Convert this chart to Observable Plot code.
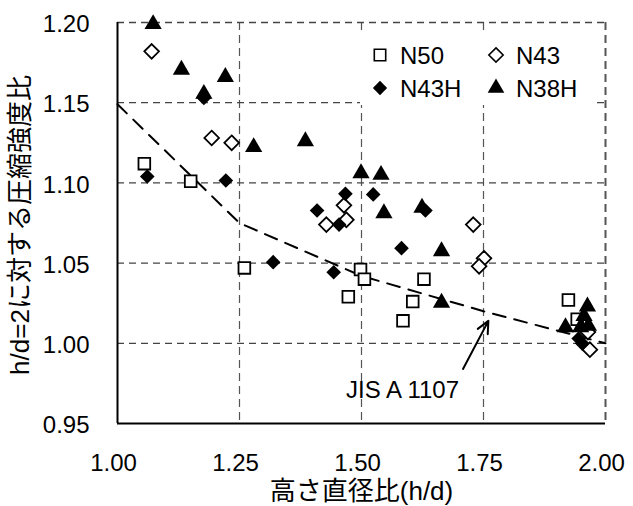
<!DOCTYPE html>
<html><head><meta charset="utf-8">
<script src="https://cdn.jsdelivr.net/npm/d3@7"></script>
<script src="https://cdn.jsdelivr.net/npm/@observablehq/plot@0.6"></script>
<style>
body{margin:0;background:#fff;}
#wrap{position:relative;width:633px;height:506px;}
#legend{position:absolute;left:360px;top:35px;}
</style></head><body><div id="wrap"></div>
<script>
const xTicks = [1.00, 1.25, 1.50, 1.75, 2.00];
const yTicks = [0.95, 1.00, 1.05, 1.10, 1.15, 1.20];

const n50X = [1.055, 1.150, 1.260, 1.498, 1.506, 1.473, 1.628, 1.605, 1.585, 1.924, 1.942];
const n50Y = [1.112, 1.101, 1.047, 1.046, 1.040, 1.029, 1.040, 1.026, 1.014, 1.027, 1.015];

const n43X = [1.070, 1.193, 1.234, 1.428, 1.464, 1.469, 1.729, 1.751, 1.741, 1.964, 1.968];
const n43Y = [1.182, 1.128, 1.125, 1.074, 1.086, 1.077, 1.074, 1.053, 1.048, 1.007, 0.996];

const n43hX = [1.061, 1.222, 1.177, 1.319, 1.443, 1.409, 1.467, 1.454, 1.524, 1.631, 1.582, 1.945, 1.952];
const n43hY = [1.104, 1.1015, 1.153, 1.0506, 1.0443, 1.0828, 1.0932, 1.074, 1.0928, 1.0828, 1.0593, 1.003, 1.000];

const n38hX = [1.073, 1.131, 1.221, 1.177, 1.279, 1.385, 1.499, 1.540, 1.546, 1.624, 1.664, 1.664, 1.918, 1.949, 1.956, 1.963, 1.965];
const n38hY = [1.199, 1.1705, 1.166, 1.1555, 1.1223, 1.126, 1.106, 1.105, 1.0811, 1.0845, 1.0574, 1.0253, 1.010, 1.010, 1.017, 1.023, 1.011];

const jisX = [1.00, 1.25, 1.50, 1.75, 2.00];
const jisY = [1.149, 1.075, 1.042, 1.020, 1.000];

const arrowFrom = [1.708, 0.984];
const arrowTo = [1.760, 1.014];
const jisLabel = "JIS A 1107";
const jisLabelPos = [1.584, 0.9706];

const seriesNames = ["N50", "N43", "N43H", "N38H"];
const seriesSymbols = ["square", "diamond2", "diamond2", "triangle"];
const seriesFills = ["white", "white", "black", "black"];
const seriesX = [n50X, n43X, n43hX, n38hX];
const seriesY = [n50Y, n43Y, n43hY, n38hY];

const xLabel = "高さ直径比(h/d)";
const yLabel = "h/d=2に対する圧縮強度比";

const points = seriesNames.flatMap((name, i) =>
  seriesX[i].map((x, j) => ({series: name, x, y: seriesY[i][j]})));
const jis = jisX.map((x, i) => ({x, y: jisY[i]}));

const font = "'Liberation Sans', Arial, 'Noto Sans CJK JP', sans-serif";

const dotMarks = seriesNames.map((name, i) =>
  Plot.dot(points.filter(d => d.series === name), {
    x: "x", y: "y",
    symbol: () => seriesSymbols[i],
    r: i === 3 ? 6.4 : 6.6,
    fill: seriesFills[i],
    stroke: "black",
    strokeWidth: seriesFills[i] === "white" ? 1.8 : 0
  }));

const chart = Plot.plot({
  width: 633,
  height: 506,
  marginLeft: 117,
  marginRight: 28,
  marginTop: 22,
  marginBottom: 83,
  style: {fontFamily: font, fontSize: "24px", color: "black", background: "white"},
  x: {domain: [1, 2], ticks: xTicks, label: null},
  y: {domain: [0.95, 1.2], ticks: yTicks, label: null},
  symbol: {type: "identity"},
  marks: [
    Plot.gridX(xTicks.slice(1), {stroke: "#555", strokeOpacity: 1, strokeDasharray: "8,5", strokeWidth: d => d === 2 ? 2 : 1.2}),
    Plot.gridY(yTicks.slice(1), {stroke: "#444", strokeOpacity: 1, strokeDasharray: "7,5", strokeWidth: d => d === 1.2 ? 1.6 : 1.2}),
    Plot.ruleX([1.0], {stroke: "black", strokeWidth: 2}),
    Plot.ruleY([0.95], {stroke: "black", strokeWidth: 2}),
    Plot.axisX({ticks: xTicks, tickFormat: d3.format(".2f"), tickSize: 0, tickPadding: 30, dx: -4, label: null, fontSize: 24}),
    Plot.axisY({ticks: yTicks, tickFormat: d3.format(".2f"), tickSize: 0, tickPadding: 28, dy: 2, label: null, fontSize: 24}),
    Plot.text([xLabel], {text: d => d, frameAnchor: "bottom", textAnchor: "middle", lineAnchor: "middle", dy: 68, fontSize: 26, fill: "black"}),
    Plot.text([yLabel], {text: d => d, frameAnchor: "left", textAnchor: "middle", lineAnchor: "middle", rotate: -90, dx: -97, dy: 2, fontSize: 26, fill: "black"}),
    Plot.line(jis, {x: "x", y: "y", stroke: "black", strokeWidth: 2, strokeDasharray: "13,9"}),
    ...dotMarks,
    Plot.arrow([{x1: arrowFrom[0], y1: arrowFrom[1], x2: arrowTo[0], y2: arrowTo[1]}],
      {x1: "x1", y1: "y1", x2: "x2", y2: "y2", stroke: "black", strokeWidth: 2, headLength: 10, headAngle: 50}),
    Plot.text([{t: jisLabel, x: jisLabelPos[0], y: jisLabelPos[1]}], {x: "x", y: "y", text: "t", fontSize: 24, textAnchor: "middle", fill: "black"})
  ]
});
document.getElementById("wrap").appendChild(chart);

// legend overlay
const lw = 236, lh = 70;
const leg = d3.select("#wrap").append("svg").attr("id", "legend")
  .attr("width", lw).attr("height", lh)
  .style("font-family", font).style("font-size", "24px");
leg.append("rect").attr("width", lw).attr("height", lh).attr("fill", "white");
const symMap = {square: d3.symbolSquare, diamond2: d3.symbolDiamond2, triangle: d3.symbolTriangle};
seriesNames.forEach((name, i) => {
  const col = i % 2, row = Math.floor(i / 2);
  const cx = col === 0 ? 20 : 136, cy = row === 0 ? 20 : 53;
  const g = leg.append("g").attr("transform", `translate(${cx},${cy})`);
  g.append("path").attr("d", d3.symbol(symMap[seriesSymbols[i]], i === 3 ? 120 : 130)())
    .attr("fill", seriesFills[i]).attr("stroke", "black")
    .attr("stroke-width", seriesFills[i] === "white" ? 1.6 : 0);
  g.append("text").attr("x", 20).attr("dy", "0.36em").text(name);
});
</script></body></html>
